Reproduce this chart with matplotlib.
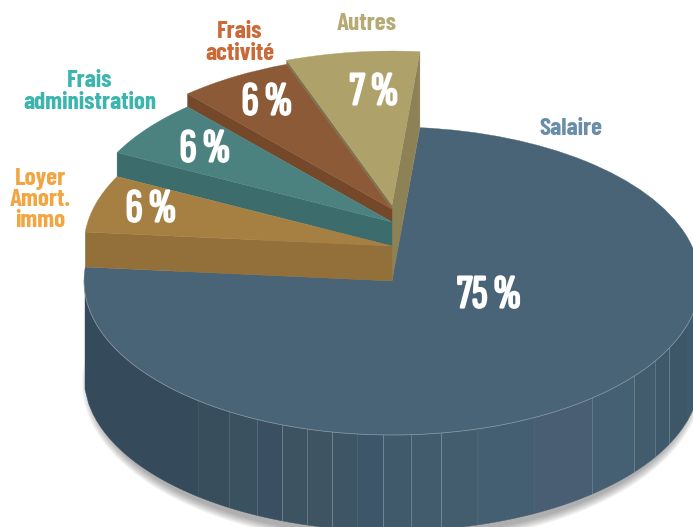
import numpy as np
import matplotlib
matplotlib.use("Agg")
import matplotlib.pyplot as plt
import matplotlib.patheffects as pe
from matplotlib.patches import Polygon, Ellipse

# ---- data
categories = ["Salaire", "Loyer\nAmort.\nimmo", "Frais\nadministration", "Frais\nactivité", "Autres"]
values = [75, 6, 6, 6, 7]

# ---- style
lifts_px = [0, 35, 59, 72, 76]
top_colors = ["#4a6477", "#a67f42", "#4b8280", "#8c5a37", "#aea26a"]
wall_colors = ["#4a6477", "#93703a", "#3d6c6c", "#744829", "#7a7450"]
right_wall_color = "#8d8256"
label_colors = ["#6a8ea8", "#f2a541", "#3bb5ad", "#c96a38", "#b5aa74"]
label_pos = [(571, 129), (40, 200), (90, 92), (240, 43), (367, 24)]
pct_pos = [(489, 296), (151, 210), (205, 150), (267, 103), (374, 93)]
FONT = ["Barlow Condensed", "Roboto Condensed", "DejaVu Sans"]
FONT_PCT = ["Sofia Sans Extra Condensed", "Barlow Condensed", "Roboto Condensed", "DejaVu Sans"]

CX, CY, RX, RY, DEPTH = 392, 281, 308, 154, 96
START = 84.8
facet_x = [85, 198, 229, 257, 282, 307, 332, 357, 383, 411, 441, 477, 534, 592, 634, 655, 669, 687, 700]
facet_col = ["#354a5a", "#384e5d", "#3a5160", "#3b4f63", "#3d5361", "#3e5463", "#3e5565", "#3e566a", "#405a6b",
             "#425b6d", "#435d6f", "#445f72", "#495d73", "#456072", "#425c6e", "#3f596b", "#3d5769", "#3e5a6c"]
facet_line_alpha = [0, .1, .25, .3, .55, .45, .6, .15, .6, .5, .6, .1, .1, .4, .5, .4, .5, 0, 0]

fig = plt.figure(figsize=(6.93, 5.27), dpi=100, facecolor="white")
ax = fig.add_axes([0, 0, 1, 1])

def X(px): return (px - CX) / RX
def Y(py): return (CY - py) / RY
def dz(px): return px / RY

# ---- soft shadow below the drum
for grow in np.linspace(8, 0, 9):
    ax.add_patch(Ellipse((0, Y(CY + DEPTH + 6)), 2 * (1 + (grow - 6) / RX), 2 * (1 + grow / RY),
                         fc="#333333", ec="none", alpha=0.05, zorder=1))

wedges, _ = ax.pie(values, startangle=START, counterclock=False, radius=1, center=(0, 0),
                   colors=top_colors, wedgeprops=dict(linewidth=0.25), frame=False)
for w, c in zip(wedges, top_colors):
    w.set_edgecolor(c)

# ---- drum wall
for k, col in enumerate(facet_col):
    x0, x1 = X(facet_x[k]), min(X(facet_x[k + 1]), 1)
    xs = np.linspace(x0, x1, 30)
    ys = -np.sqrt(np.clip(1 - xs ** 2, 0, 1))
    pts = np.r_[np.c_[xs, ys], np.c_[xs[::-1], ys[::-1] - dz(DEPTH)]]
    ax.add_patch(Polygon(pts, closed=True, fc=col, ec=col, lw=0.3, zorder=2))
    if facet_line_alpha[k] > 0:
        ax.plot([x0, x0], [ys[0], ys[0] - dz(DEPTH)], color="#8fa3af", lw=0.7,
                alpha=facet_line_alpha[k], zorder=3)
th = np.linspace(180, 360, 400)
ax.plot(np.cos(np.radians(th)), np.sin(np.radians(th)), color="#8c9ca7", lw=0.5, zorder=4)

# ---- slices, back to front
bounds = START - np.cumsum([0] + [v * 3.6 for v in values])
wedges[0].set_zorder(3)
n = len(values)
for i in range(n - 1, 0, -1):
    z = 5 + (n - i) * 2
    lift = dz(lifts_px[i])
    wedges[i].set_center((0, lift))
    wedges[i].set_zorder(z + 1)
    edge = np.radians(bounds[i])
    ex, ey = np.cos(edge), np.sin(edge)
    below = dz(lifts_px[i - 1]) if i > 1 else 0
    ax.add_patch(Polygon([(0, lift), (ex, ey + lift), (ex, ey + below), (0, below)], closed=True,
                         fc=wall_colors[i], ec=wall_colors[i], lw=0.25, zorder=z))
edge = np.radians(bounds[-1])
ex, ey = np.cos(edge), np.sin(edge)
lift = dz(lifts_px[-1])
ax.add_patch(Polygon([(0, lift), (ex, ey + lift), (ex, ey), (0, 0)], closed=True,
                     fc=right_wall_color, ec=right_wall_color, lw=0.25, zorder=5))

# ---- texts
for cat, v, lp, pp, lc in zip(categories, values, label_pos, pct_pos, label_colors):
    ax.text(X(lp[0]), Y(lp[1]), cat, color=lc, family=FONT, fontweight=700, fontsize=18,
            ha="center", va="center", linespacing=0.95, zorder=30)
    ax.text(X(pp[0]), Y(pp[1]), f"{v} %", color="white", family=FONT_PCT, fontweight=700, fontsize=34,
            ha="center", va="center", zorder=30,
            path_effects=[pe.withStroke(linewidth=1.6, foreground="white")])

ax.set_aspect("auto")
ax.set_xlim(X(0), X(693))
ax.set_ylim(Y(527), Y(0))
ax.axis("off")
fig.savefig("out.png", dpi=100, facecolor="white")
